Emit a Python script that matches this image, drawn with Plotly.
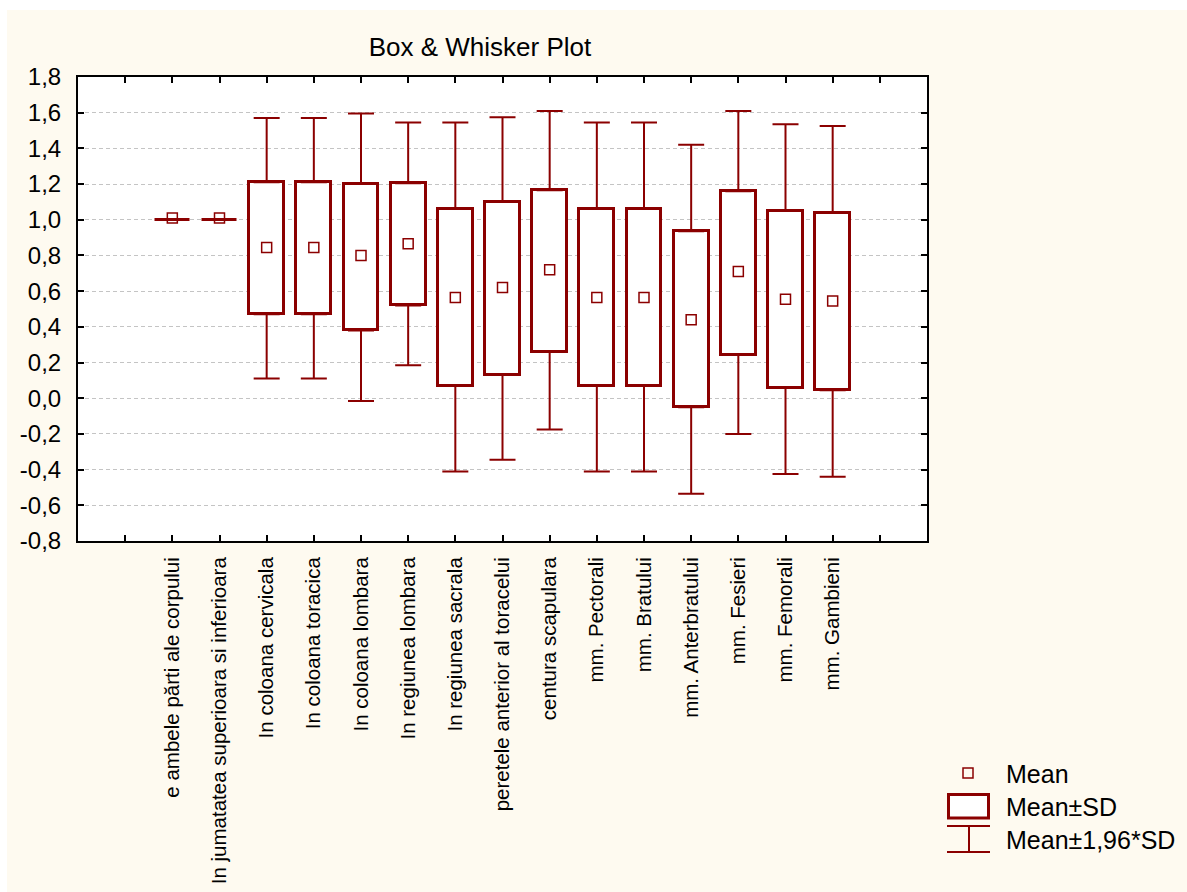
import plotly.graph_objects as go
import numpy as np

# ---------------- data ----------------
categories = [
    "e ambele părti ale corpului",
    "In jumatatea superioara si inferioara",
    "In coloana cervicala",
    "In coloana toracica",
    "In coloana lombara",
    "In regiunea lombara",
    "In regiunea sacrala",
    "peretele anterior al toracelui",
    "centura scapulara",
    "mm. Pectorali",
    "mm. Bratului",
    "mm. Anterbratului",
    "mm. Fesieri",
    "mm. Femorali",
    "mm. Gambieni",
]
means = [1.01, 1.01, 0.845, 0.845, 0.80, 0.865, 0.565, 0.62, 0.72, 0.565, 0.565, 0.44, 0.71, 0.555, 0.545]
sd_low = [1.0, 1.0, 0.47, 0.47, 0.38, 0.52, 0.07, 0.13, 0.26, 0.07, 0.07, -0.05, 0.245, 0.06, 0.045]
sd_high = [1.0, 1.0, 1.21, 1.21, 1.20, 1.205, 1.06, 1.10, 1.165, 1.06, 1.06, 0.935, 1.16, 1.05, 1.04]
ci_low = [1.0, 1.0, 0.11, 0.11, -0.015, 0.185, -0.41, -0.345, -0.175, -0.41, -0.41, -0.535, -0.20, -0.425, -0.44]
ci_high = [1.0, 1.0, 1.57, 1.57, 1.595, 1.545, 1.545, 1.575, 1.61, 1.545, 1.545, 1.42, 1.61, 1.535, 1.525]

y_tick_values = [-0.8, -0.6, -0.4, -0.2, 0.0, 0.2, 0.4, 0.6, 0.8, 1.0, 1.2, 1.4, 1.6, 1.8]
y_tick_labels = ["-0,8", "-0,6", "-0,4", "-0,2", "0,0", "0,2", "0,4", "0,6", "0,8",
                 "1,0", "1,2", "1,4", "1,6", "1,8"]
legend_labels = ["Mean", "Mean±SD", "Mean±1,96*SD"]
title_text = "Box & Whisker Plot"

# ---------------- styling ----------------
RED = "#8B0000"
CREAM = "#FEFAF0"
FONT = "Liberation Sans, Arial, sans-serif"
W, H = 1187, 892
ML, MR, MT, MB = 78, 260, 77, 351
PW, PH = W - ML - MR, H - MT - MB

n = len(categories)
pos = np.arange(n) + 2  # category slots on the numeric axis (range 0..18)
m = np.array(means)
lo = np.array(sd_low)
hi = np.array(sd_high)
clo = np.array(ci_low)
chi = np.array(ci_high)

fig = go.Figure()

# Mean ± SD boxes
fig.add_trace(go.Bar(
    x=pos, y=hi - lo, base=lo, width=0.74,
    marker=dict(color="white", line=dict(color=RED, width=3)),
    showlegend=False, hoverinfo="skip",
))

# Upper whiskers (box top -> mean + 1.96 SD)
fig.add_trace(go.Scatter(
    x=pos, y=hi, mode="markers",
    marker=dict(size=1, color="rgba(0,0,0,0)"),
    error_y=dict(type="data", symmetric=False, array=chi - hi, arrayminus=[0] * n,
                 color=RED, thickness=2, width=13),
    showlegend=False, hoverinfo="skip",
))
# Lower whiskers (box bottom -> mean - 1.96 SD)
fig.add_trace(go.Scatter(
    x=pos, y=lo, mode="markers",
    marker=dict(size=1, color="rgba(0,0,0,0)"),
    error_y=dict(type="data", symmetric=False, array=[0] * n, arrayminus=lo - clo,
                 color=RED, thickness=2, width=13),
    showlegend=False, hoverinfo="skip",
))

# Means
fig.add_trace(go.Scatter(
    x=pos, y=m, mode="markers",
    marker=dict(symbol="square-open", size=10, color=RED, line=dict(width=1.5, color=RED)),
    showlegend=False,
))


def px_x(px):
    return (px - ML) / PW


def px_y(py):
    return (H - MB - py) / PH


shapes = [
    # white strips around the cream panel (top and left)
    dict(type="rect", xref="paper", yref="paper", x0=px_x(0), x1=px_x(W), y0=px_y(10), y1=px_y(0),
         fillcolor="white", line=dict(width=0), layer="below"),
    dict(type="rect", xref="paper", yref="paper", x0=px_x(0), x1=px_x(7), y0=px_y(H), y1=px_y(0),
         fillcolor="white", line=dict(width=0), layer="below"),
    # legend symbols
    dict(type="rect", xref="paper", yref="paper", x0=px_x(963), x1=px_x(973), y0=px_y(778), y1=px_y(768),
         line=dict(color=RED, width=1.5), fillcolor="rgba(0,0,0,0)"),
    dict(type="rect", xref="paper", yref="paper", x0=px_x(948.5), x1=px_x(988.5), y0=px_y(818), y1=px_y(794.5),
         line=dict(color=RED, width=3), fillcolor="white"),
    dict(type="line", xref="paper", yref="paper", x0=px_x(947), x1=px_x(990), y0=px_y(826), y1=px_y(826),
         line=dict(color=RED, width=2)),
    dict(type="line", xref="paper", yref="paper", x0=px_x(947), x1=px_x(990), y0=px_y(852), y1=px_y(852),
         line=dict(color=RED, width=2)),
    dict(type="line", xref="paper", yref="paper", x0=px_x(969), x1=px_x(969), y0=px_y(826), y1=px_y(852),
         line=dict(color=RED, width=2)),
]

legend_y = [774, 807, 840]
annotations = [
    dict(text=lab, xref="paper", yref="paper", x=px_x(1004), y=px_y(yy), xanchor="left", yanchor="middle",
         showarrow=False, font=dict(family=FONT, size=25, color="black"))
    for lab, yy in zip(legend_labels, legend_y)
]

fig.update_layout(
    width=W, height=H,
    margin=dict(l=ML, r=MR, t=MT, b=MB, pad=0, autoexpand=False),
    paper_bgcolor=CREAM, plot_bgcolor="white",
    font=dict(family=FONT, color="black"),
    title=dict(text=title_text, x=px_x(480), xref="paper", xanchor="center",
               y=1 - 47 / H, yref="container", yanchor="middle",
               font=dict(family=FONT, size=26, color="black")),
    showlegend=False,
    shapes=shapes,
    annotations=annotations,
    bargap=0,
)

fig.update_xaxes(
    range=[0, 18], tickmode="array", tickvals=list(range(1, 18)),
    ticktext=[""] + categories + [""], tickangle=-90,
    tickfont=dict(family=FONT, size=20.5, color="black"),
    ticks="inside", ticklen=6, tickwidth=2, tickcolor="black",
    showline=True, linecolor="black", linewidth=2, mirror="ticks",
    showgrid=False, zeroline=False, ticklabelstandoff=6, automargin=False,
)
fig.update_yaxes(
    range=[-0.8, 1.8], tickmode="array", tickvals=y_tick_values, ticktext=y_tick_labels,
    tickfont=dict(family=FONT, size=24, color="black"),
    ticks="inside", ticklen=6, tickwidth=2, tickcolor="black",
    showline=True, linecolor="black", linewidth=2, mirror="ticks",
    showgrid=True, gridcolor="#C4C4C4", gridwidth=1, griddash="4px,3px",
    zeroline=False, ticklabelstandoff=10, automargin=False,
)

fig.write_html(
    "out.html",
    config={"displayModeBar": False},
    post_script="document.body.style.margin='0';document.body.style.overflow='hidden';",
)
